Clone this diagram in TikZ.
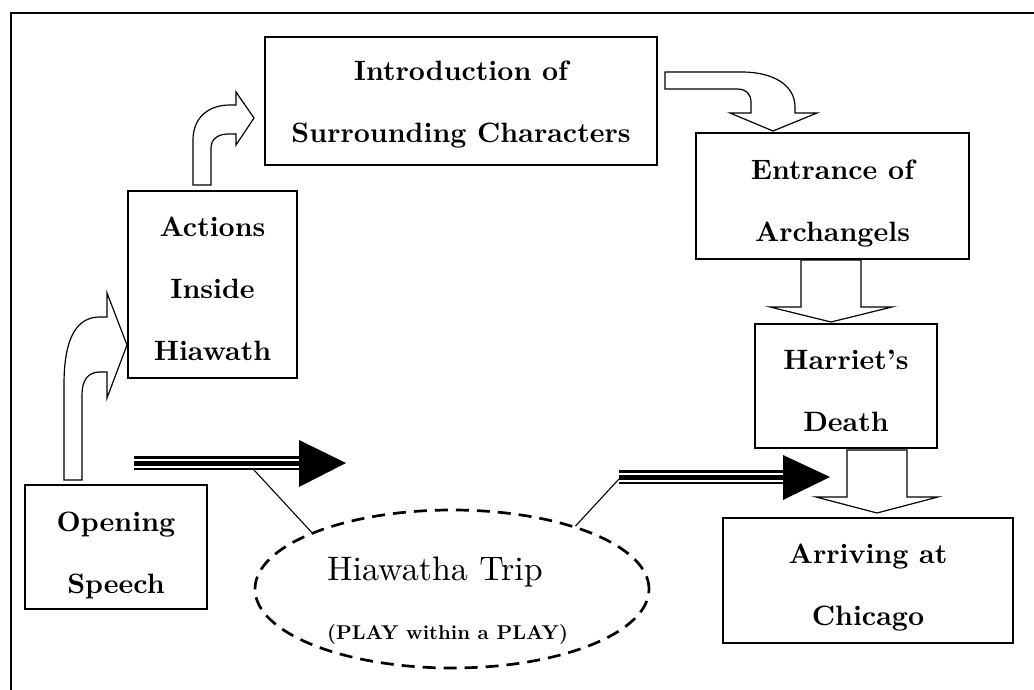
\documentclass[tikz,border=0pt]{standalone}
\usepackage{fontspec}
\setmainfont{lmroman10-regular.otf}[BoldFont=lmroman10-bold.otf]
\usetikzlibrary{shapes.geometric}
\begin{document}
\begin{tikzpicture}[x=1pt,y=-1pt,
  box/.style={draw, line width=1.4pt, inner sep=0pt},
  btext/.style={font=\fontsize{28}{62}\selectfont\bfseries, align=center, inner sep=0pt},
  blockarrow/.style={draw, fill=white, line width=1.2pt, line join=miter},
  tripleline/.style={line width=5pt, preaction={draw, line width=14pt}, preaction={draw, white, line width=9pt}},
  headfill/.style={fill=black},
  callout/.style={draw, line width=1.1pt},
  dashell/.style={draw, ellipse, inner sep=0pt, line width=2.7pt, dash pattern=on 13pt off 8pt},
]
\useasboundingbox (0,0) rectangle (1034,690);
% outer frame (cropped at right and bottom)
\draw[line width=1.4pt] (11,690) -- (11,13) -- (1034,13);

% boxes
\node[box, minimum width=392pt, minimum height=128pt] (intro) at (461,101) {};
\node[box, minimum width=169pt, minimum height=187pt] (actions) at (212.5,284.5) {};
\node[box, minimum width=182pt, minimum height=124pt] (opening) at (116,547) {};
\node[box, minimum width=273pt, minimum height=126pt] (entrance) at (832.5,196) {};
\node[box, minimum width=182pt, minimum height=124pt] (harriet) at (846,386) {};
\node[box, minimum width=290pt, minimum height=125pt] (arriving) at (868,580.5) {};

% block arrows
% Opening -> Actions
\draw[blockarrow] (64,480) -- (64,385) .. controls (64,335) and (78,317) .. (100,317)
  -- (107,317) -- (107,293) -- (127,345) -- (107,398) -- (107,372) -- (100,372)
  .. controls (88,372) and (82,380) .. (82,395) -- (82,480) -- cycle;
% Actions -> Introduction
\draw[blockarrow] (193,185) -- (193,140) .. controls (193,118) and (208,105) .. (230,105)
  -- (236,105) -- (236,92) -- (254,118) -- (236,145) -- (236,134) -- (228,134)
  .. controls (217,134) and (211,140) .. (211,148) -- (211,185) -- cycle;
% Introduction -> Entrance
\draw[blockarrow] (665,72) -- (742,72) .. controls (773,72) and (795,85) .. (795,107)
  -- (795,113) -- (817,113) -- (773,131) -- (730,113) -- (751,113) -- (751,102)
  .. controls (751,94) and (746,89) .. (737,89) -- (665,89) -- cycle;
% Entrance -> Harriet
\draw[blockarrow] (801,260) -- (801,307) -- (770,307) -- (831,322) -- (892,307)
  -- (861,307) -- (861,260) -- cycle;
% Harriet -> Arriving
\draw[blockarrow] (847,450) -- (847,497) -- (816,497) -- (877,513) -- (938,497)
  -- (907,497) -- (907,450) -- cycle;

% ellipse
\node[dashell, minimum width=394pt, minimum height=158pt] (trip) at (452,589) {};

% callout lines
\coordinate (cA) at (254,470);
\coordinate (cB) at (619,479);
\draw[callout] (cA) -- (trip.158);
\draw[callout] (cB) -- (trip.27.5);

% triple-line arrows
\coordinate (tA1) at (134,463);
\coordinate (tA2) at (299,463);
\coordinate (tB1) at (619,477);
\coordinate (tB2) at (783,477);
\draw[tripleline] (tA1) -- (tA2);
\fill[headfill] (299,440) -- (346,463) -- (299,487) -- cycle;
\draw[tripleline] (tB1) -- (tB2);
\fill[headfill] (783,455) -- (830,477) -- (783,500) -- cycle;

% texts
\node[btext] (introT) at (461,104.3) {Introduction of\\Surrounding Characters};
\node[btext] (actionsT) at (212.5,289.3) {Actions\\Inside\\Hiawath};
\node[btext] (openingT) at (116,555.3) {Opening\\Speech};
\node[btext] (entranceT) at (832.5,203.5) {Entrance of\\Archangels};
\node[btext] (harrietT) at (846,391.3) {Harriet’s\\Death};
\node[btext] (arrivingT) at (868,587.6) {Arriving at\\Chicago};
\node[inner sep=0pt, anchor=base west, font=\fontsize{34}{40}\selectfont] (tripT1) at (327,580) {Hiawatha Trip};
\node[inner sep=0pt, anchor=base west, font=\fontsize{20}{24}\selectfont\bfseries] (tripT2) at (327,639) {(PLAY within a PLAY)};
\end{tikzpicture}
\end{document}
